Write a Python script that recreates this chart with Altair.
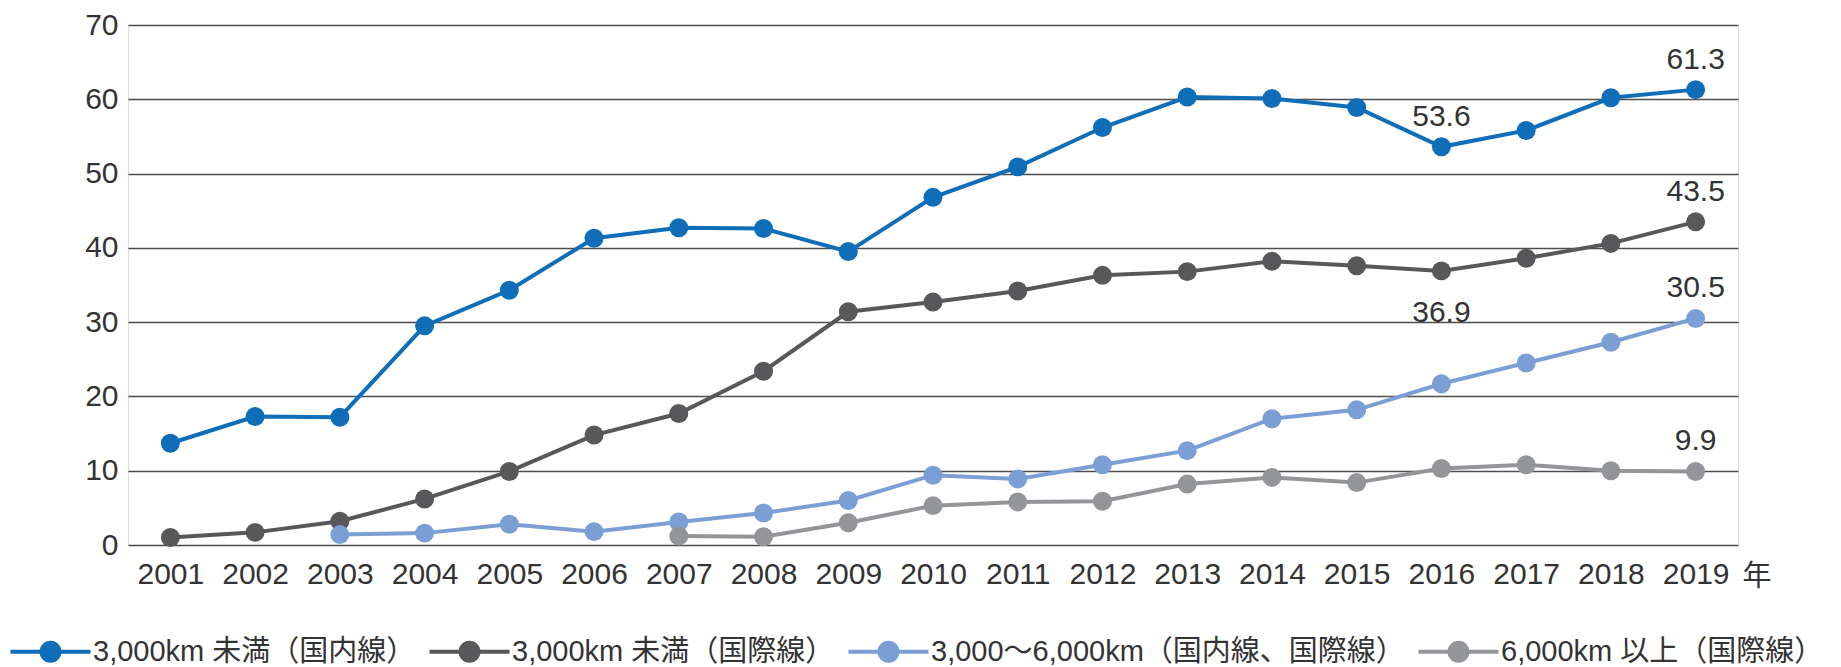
import altair as alt
import pandas as pd

# ---- data ----
years = [str(y) for y in range(2001, 2020)]
series_names = [
    "3,000km 未満（国内線）",
    "3,000km 未満（国際線）",
    "3,000～6,000km（国内線、国際線）",
    "6,000km 以上（国際線）",
]
dom_under3000 = [13.7, 17.3, 17.2, 29.5, 34.3, 41.3, 42.7, 42.6, 39.5, 46.8,
                 50.9, 56.2, 60.3, 60.1, 58.9, 53.6, 55.8, 60.2, 61.3]
intl_under3000 = [1.0, 1.7, 3.2, 6.2, 9.9, 14.8, 17.7, 23.4, 31.4, 32.7,
                  34.2, 36.3, 36.8, 38.2, 37.6, 36.9, 38.6, 40.6, 43.5]
mid_3000_6000 = [None, None, 1.4, 1.6, 2.8, 1.8, 3.1, 4.3, 6.0, 9.4,
                 8.9, 10.8, 12.7, 17.0, 18.2, 21.7, 24.5, 27.3, 30.5]
over6000 = [None, None, None, None, None, None, 1.2, 1.1, 3.0, 5.3,
            5.8, 5.9, 8.2, 9.1, 8.4, 10.3, 10.8, 10.0, 9.9]
series_values = [dom_under3000, intl_under3000, mid_3000_6000, over6000]
colors = ["#0f6eb7", "#58585a", "#7b9ed4", "#939598"]

labels_above = [(0, "2016"), (0, "2019"), (1, "2019"), (2, "2019"), (3, "2019")]
labels_below = [(1, "2016")]
y_ticks = [0, 10, 20, 30, 40, 50, 60, 70]

rows = []
for name, vals in zip(series_names, series_values):
    for yr, v in zip(years, vals):
        if v is not None:
            rows.append({"year": yr, "series": name, "value": v})
df = pd.DataFrame(rows)


def pick(pairs):
    keys = {(series_names[i], y) for i, y in pairs}
    return df[[(s, y) in keys for s, y in zip(df["series"], df["year"])]]


FONT = "Liberation Sans, Noto Sans CJK JP, sans-serif"
TXT = "#333333"

# legend symbol: line with a filled dot (concentric rings give a solid disc)
legend_symbol = ("M-4,0H4"
                 "M0.9,0A0.9,0.9,0,1,1,-0.9,0A0.9,0.9,0,1,1,0.9,0"
                 "M0.55,0A0.55,0.55,0,1,1,-0.55,0A0.55,0.55,0,1,1,0.55,0"
                 "M0.2,0A0.2,0.2,0,1,1,-0.2,0A0.2,0.2,0,1,1,0.2,0")

x_enc = alt.X(
    "year:O",
    scale=alt.Scale(type="point", padding=0.5, domain=years),
    axis=alt.Axis(
        labelAngle=0, domain=False, ticks=False, grid=False,
        labelPadding=14, labelFontSize=30, labelFont=FONT, labelColor=TXT,
        title="年", titleX=1614, titleY=31, titleAlign="left",
        titleBaseline="middle", titleAngle=0, titleFontSize=29,
        titleFontWeight="normal", titleFont=FONT, titleColor=TXT,
    ),
)
y_enc = alt.Y(
    "value:Q",
    scale=alt.Scale(domain=[0, 70], nice=False, zero=True),
    axis=alt.Axis(
        values=y_ticks, grid=True, gridColor="#4d4d4d", gridWidth=1.3,
        domain=False, ticks=False, labelPadding=10, labelFontSize=30,
        labelFont=FONT, labelColor=TXT, title=None,
    ),
)
color_enc = alt.Color(
    "series:N",
    scale=alt.Scale(domain=series_names, range=colors),
    sort=series_names,
    legend=alt.Legend(
        orient="none", legendX=-120, legendY=612, direction="horizontal",
        columns=4, title=None, padding=0,
        symbolType=legend_symbol, symbolSize=400, symbolStrokeWidth=4,
        symbolOffset=28, labelOffset=28, columnPadding=5,
        labelFontSize=29, labelFont=FONT, labelColor=TXT, labelLimit=1000,
        symbolOpacity=1,
    ),
)

lines = alt.Chart(df).mark_line(
    strokeWidth=4,
    point=alt.OverlayMarkDef(filled=True, size=360, opacity=1),
).encode(x=x_enc, y=y_enc, color=color_enc)

text_above = alt.Chart(pick(labels_above)).mark_text(
    dy=-30, fontSize=30, font=FONT, color=TXT, baseline="middle"
).encode(x="year:O", y="value:Q", text=alt.Text("value:Q", format=".1f"))

text_below = alt.Chart(pick(labels_below)).mark_text(
    dy=42, fontSize=30, font=FONT, color=TXT, baseline="middle"
).encode(x="year:O", y="value:Q", text=alt.Text("value:Q", format=".1f"))

chart = alt.layer(lines, text_above, text_below).properties(
    width=1610, height=520,
    padding={"left": 128, "top": 25, "right": 103, "bottom": 122},
    autosize=alt.AutoSizeParams(type="none"),
).configure_view(stroke=None).configure(background="white")

chart.save("out.html", embed_options={"renderer": "svg", "actions": False})
